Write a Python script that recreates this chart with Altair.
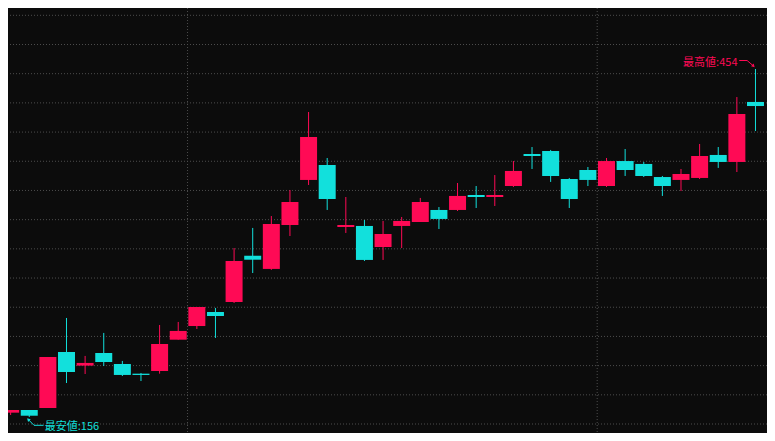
import altair as alt
import pandas as pd

# ---- data ----
opens  = [159.7, 162.0, 163.7, 211.7, 200.0, 210.8, 201.4, 193.1, 195.4, 222.2,
          233.9, 245.9, 254.5, 294.1, 282.8, 320.4, 359.0, 371.8, 318.7, 319.6,
          301.6, 319.6, 323.0, 333.3, 333.3, 346.1, 344.4, 353.8, 381.2, 383.8,
          359.8, 367.5, 353.8, 375.2, 372.7, 361.5, 359.0, 360.7, 380.4, 374.4, 425.8]
highs  = [162.0, 162.0, 207.4, 240.8, 208.3, 228.0, 204.0, 193.7, 234.8, 237.4,
          250.2, 249.4, 300.7, 317.9, 328.1, 350.4, 417.2, 377.8, 344.4, 324.7,
          323.9, 327.3, 343.6, 335.8, 356.4, 353.8, 363.2, 375.2, 387.2, 384.7,
          360.7, 370.1, 377.8, 385.5, 374.4, 362.4, 368.4, 389.8, 387.2, 430.0, 454.0]
lows   = [157.7, 156.0, 163.7, 185.1, 192.8, 199.7, 191.1, 186.8, 193.1, 222.2,
          231.4, 223.7, 253.6, 279.3, 282.0, 311.0, 354.7, 333.3, 313.6, 289.6,
          290.5, 300.7, 323.0, 317.0, 332.4, 335.0, 336.7, 353.0, 368.4, 357.3,
          335.0, 353.8, 353.0, 362.4, 361.5, 345.3, 349.5, 359.8, 369.3, 365.8, 400.9]
closes = [162.0, 157.1, 207.4, 194.6, 202.3, 203.1, 192.0, 192.0, 218.5, 229.7,
          250.2, 242.5, 289.6, 290.7, 321.3, 340.1, 395.8, 342.7, 320.4, 290.5,
          312.7, 323.9, 340.1, 325.6, 345.3, 344.4, 346.1, 366.7, 379.5, 362.4,
          342.7, 359.0, 375.2, 367.5, 362.4, 353.8, 364.1, 379.5, 374.4, 415.5, 422.3]
price_grid = [150, 175, 200, 225, 250, 275, 300, 325, 350, 375, 400, 425, 450, 475, 500]
period_breaks = [9.5, 31.5]
high_label = "最高値"
low_label = "最安値"

RED = "#ff0a55"
CYAN = "#12e0dc"
BG = "#0c0c0c"
GRID = "#4d4d4d"

n = len(opens)
df = pd.DataFrame({
    "i": list(range(n)),
    "open": opens, "high": highs, "low": lows, "close": closes,
})
df["dir"] = ["up" if c >= o else "down" for o, c in zip(opens, closes)]

PX_X = 18.87      # pixels per candle step
PX_Y = 1.1678     # pixels per price unit

xs = alt.Scale(domain=[0.127, 40.35], nice=False, zero=False)
ys = alt.Scale(domain=[142.3, 506.25], nice=False, zero=False)
col = alt.Color("dir:N", scale=alt.Scale(domain=["up", "down"], range=[RED, CYAN]), legend=None)

hgrid = alt.Chart(pd.DataFrame({"p": price_grid})).mark_rule(
    color=GRID, strokeWidth=1, strokeDash=[1, 2]).encode(
    y=alt.Y("p:Q", scale=ys, axis=None))
vgrid = alt.Chart(pd.DataFrame({"b": period_breaks})).mark_rule(
    color=GRID, strokeWidth=1, strokeDash=[1, 2]).encode(
    x=alt.X("b:Q", scale=xs, axis=None))

wicks = alt.Chart(df).mark_rule(strokeWidth=1).encode(
    x=alt.X("i:Q", scale=xs, axis=None),
    y=alt.Y("low:Q", scale=ys, axis=None),
    y2="high:Q",
    color=col,
)
bodies = alt.Chart(df).mark_bar(size=17).encode(
    x=alt.X("i:Q", scale=xs, axis=None),
    y=alt.Y("open:Q", scale=ys, axis=None),
    y2="close:Q",
    color=col,
)

# annotation anchors
hi_i = max(range(n), key=lambda k: highs[k])
lo_i = min(range(n), key=lambda k: lows[k])
hi_v, lo_v = highs[hi_i], lows[lo_i]

def pt(i0, v0, dpx, dpy):
    return {"x": i0 + dpx / PX_X, "y": v0 - dpy / PX_Y}

hi_path = pd.DataFrame([dict(pt(hi_i, hi_v, dx, dy), o=k) for k, (dx, dy) in
                        enumerate([(-16.5, -8.5), (-8.5, -8.5), (-2.0, -3.0)])])
lo_path = pd.DataFrame([dict(pt(lo_i, lo_v, dx, dy), o=k) for k, (dx, dy) in
                        enumerate([(-1.0, 2.5), (4.8, 8.3), (14.5, 8.3)])])
hi_head = pd.DataFrame([pt(hi_i, hi_v, -2.0, -3.0)])
lo_head = pd.DataFrame([pt(lo_i, lo_v, -1.0, 2.5)])

hi_line = alt.Chart(hi_path).mark_line(color=RED, strokeWidth=1).encode(
    x=alt.X("x:Q", scale=xs, axis=None), y=alt.Y("y:Q", scale=ys, axis=None), order="o:Q")
lo_line = alt.Chart(lo_path).mark_line(color=CYAN, strokeWidth=1).encode(
    x=alt.X("x:Q", scale=xs, axis=None), y=alt.Y("y:Q", scale=ys, axis=None), order="o:Q")
hi_arrow = alt.Chart(hi_head).mark_point(shape="triangle-right", filled=True, size=14,
                                         angle=45, color=RED, opacity=1).encode(
    x=alt.X("x:Q", scale=xs, axis=None), y=alt.Y("y:Q", scale=ys, axis=None))
lo_arrow = alt.Chart(lo_head).mark_point(shape="triangle-right", filled=True, size=14,
                                         angle=225, color=CYAN, opacity=1).encode(
    x=alt.X("x:Q", scale=xs, axis=None), y=alt.Y("y:Q", scale=ys, axis=None))

hi_txt = alt.Chart(pd.DataFrame([{"i": hi_i, "v": hi_v, "t": f"{high_label}:{hi_v:g}"}])).mark_text(
    align="right", baseline="middle", dx=-18, dy=-6.5, fontSize=11,
    font="Noto Sans CJK JP", color=RED).encode(
    x=alt.X("i:Q", scale=xs, axis=None), y=alt.Y("v:Q", scale=ys, axis=None), text="t:N")
lo_txt = alt.Chart(pd.DataFrame([{"i": lo_i, "v": lo_v, "t": f"{low_label}:{lo_v:g}"}])).mark_text(
    align="left", baseline="middle", dx=15.5, dy=9.5, fontSize=11,
    font="Noto Sans CJK JP", color=CYAN).encode(
    x=alt.X("i:Q", scale=xs, axis=None), y=alt.Y("v:Q", scale=ys, axis=None), text="t:N")

chart = alt.layer(hgrid, vgrid, wicks, bodies, hi_line, lo_line, hi_arrow, lo_arrow,
                  hi_txt, lo_txt).properties(
    width=759, height=425,
    autosize=alt.AutoSizeParams(type="none"),
    padding=0,
    background=BG,
).configure_view(stroke=None)

chart.save("out.html", embed_options={"renderer": "svg", "actions": False})
